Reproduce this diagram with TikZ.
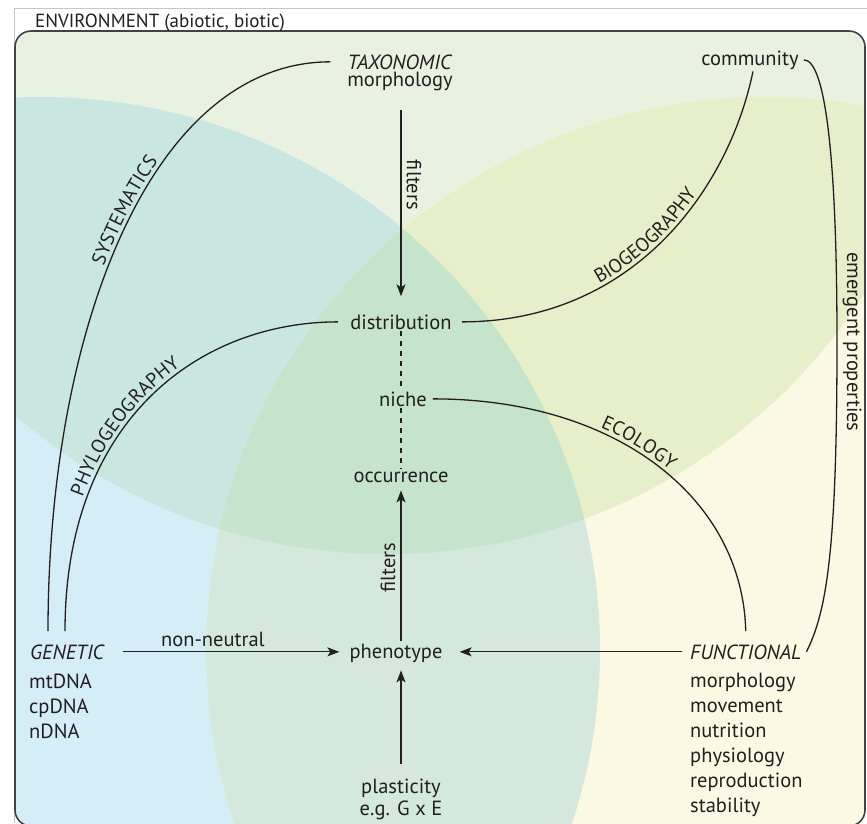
\documentclass[tikz,border=0pt]{standalone}
\usepackage{fontspec}
\setmainfont{PT Sans}
\usetikzlibrary{arrows.meta,decorations.text,positioning}

\definecolor{inkcol}{HTML}{231F20}
\definecolor{envcol}{HTML}{E9F1E0}
\definecolor{genecol}{HTML}{D5EDF7}
\definecolor{funccol}{HTML}{FBF9E3}
\definecolor{genefunccol}{HTML}{D4E8DD}
\definecolor{genetaxcol}{HTML}{C9E6E1}
\definecolor{functaxcol}{HTML}{E6EFC9}
\definecolor{allcol}{HTML}{C6E3CB}

\newcommand\arcfont{\fontsize{19.5}{19.5}\selectfont}
\def\genearea{(40,650) ellipse [x radius=560, y radius=553]}
\def\funcarea{(766,650) ellipse [x radius=560, y radius=553]}
\def\taxarea{(387,-14) circle [radius=568]}

\tikzset{
  lbl/.style={font=\fontsize{20.5}{25}\selectfont, text=inkcol, inner sep=2pt},
  link/.style={draw=inkcol, line width=1.3pt},
  arr/.style={link, -{Stealth[length=12pt,width=9pt,inset=3pt]}},
  dashlink/.style={link, dash pattern=on 5pt off 5pt},
  arclabel/.style 2 args={postaction={decorate, decoration={text along path,
      text={|\arcfont|#1}, text align={left indent=#2}, raise=4pt, text color=inkcol}}},
}

\begin{document}
\begin{tikzpicture}[x=1pt, y=-1pt]
\useasboundingbox (0,0) rectangle (867,823);

% overlapping areas
\begin{scope}
  \clip[rounded corners=16pt] (15,31) rectangle (865,826);
  \fill[envcol] (15,31) rectangle (865,826);
  \fill[genecol] \genearea;
  \fill[funccol] \funcarea;
  \begin{scope}
    \clip \genearea;
    \fill[genefunccol] \funcarea;
  \end{scope}
  \begin{scope}
    \clip \taxarea;
    \fill[genetaxcol] \genearea;
    \fill[functaxcol] \funcarea;
    \begin{scope}
      \clip \genearea;
      \fill[allcol] \funcarea;
    \end{scope}
  \end{scope}
\end{scope}
\draw[gray!45, line width=0.8pt] (14,823) -- (14,8) -- (867,8);
\draw[inkcol!85, line width=1.6pt, rounded corners=16pt] (15,31) rectangle (865,826);

\node[lbl, font=\fontsize{19}{22}\selectfont, anchor=base west] (env) at (33,27) {ENVIRONMENT (abiotic, biotic)};

% central column
\node[lbl, anchor=base] (taxon) at (400,69) {\textit{TAXONOMIC}};
\node[lbl, anchor=base] (taxmorph) at (400,86) {morphology};
\node[lbl, anchor=base] (distribution) at (401,329) {distribution};
\node[lbl, anchor=base] (niche) at (403,406) {niche};
\node[lbl, anchor=base] (occurrence) at (401,482) {occurrence};
\node[lbl, anchor=base] (phenotype) at (396,658) {phenotype};
\node[lbl, anchor=base] (plasticity) at (401,793) {plasticity};
\node[lbl, anchor=base] (gxe) at (401,815) {e.g. G x E};
\node[lbl, anchor=base] (community) at (750,65) {community};

% left and right lists
\node[lbl, anchor=base west] (genetic) at (28,659) {\textit{GENETIC}};
\foreach \w [count=\i] in {mtDNA,cpDNA,nDNA}
  \node[lbl, anchor=base west] (dna\i) at (27,663+25*\i) {\w};
\node[lbl, anchor=base west] (functional) at (688,659) {\textit{FUNCTIONAL}};
\foreach \w [count=\i] in {morphology,movement,nutrition,physiology,reproduction,stability}
  \node[lbl, anchor=base west] (trait\i) at (688,662+25*\i) {\w};

% straight links
\draw[arr, shorten <=17pt, shorten >=16pt] (taxmorph.south -| distribution.north) -- node[lbl, sloped, above=3pt, pos=.42] (filtertop) {filters} (distribution.north);
\draw[dashlink] (distribution.south) -- (distribution.south |- niche.north);
\draw[dashlink] (distribution.south |- niche.south) -- (occurrence.north);
\draw[arr, shorten >=6pt] (occurrence.south |- phenotype.north) -- node[lbl, sloped, above=3pt, pos=.47] (filterbot) {filters} (occurrence.south);
\draw[arr, shorten <=12pt, shorten >=6pt] (plasticity.north) -- (plasticity.north |- phenotype.south);
\draw[arr, shorten <=16pt, shorten >=8pt] (genetic.east) -- node[lbl, above=2pt, pos=.44] (nonneutral) {non-neutral} (genetic.east -| phenotype.west);
\draw[arr, shorten <=6pt, shorten >=15pt] (functional.west) -- (functional.west -| phenotype.east);

% curved links
\draw[link, arclabel={SYSTEMATICS}{370pt}] ([xshift=20pt,yshift=11pt]genetic.north west) .. controls +(0,-300) and +(-180,0) .. ([xshift=-15pt]taxon.west);
\draw[link, arclabel={PHYLOGEOGRAPHY}{135pt}] ([xshift=37pt,yshift=11pt]genetic.north west) .. controls +(0,-212) and +(-138,0) .. ([xshift=-10pt]distribution.west);
\draw[link, arclabel={BIOGEOGRAPHY}{145pt}] ([xshift=8pt]distribution.east) .. controls +(170,0) and +(-25,120) .. ([xshift=3pt]community.south);
\draw[link, arclabel={ECOLOGY}{170pt}] ([xshift=4pt]niche.east) .. controls +(185,0) and +(-3,-132) .. ([yshift=11pt]functional.north);
\coordinate (emid) at (837,342);
\draw[link] ([xshift=3pt]community.east) .. controls +(22,0) and +(0,-180) .. node[lbl, at end, sloped, above=3pt] (emergent) {emergent properties} (emid) .. controls +(0,210) and +(20,-40) .. ([xshift=3pt]functional.east);
\end{tikzpicture}
\end{document}
